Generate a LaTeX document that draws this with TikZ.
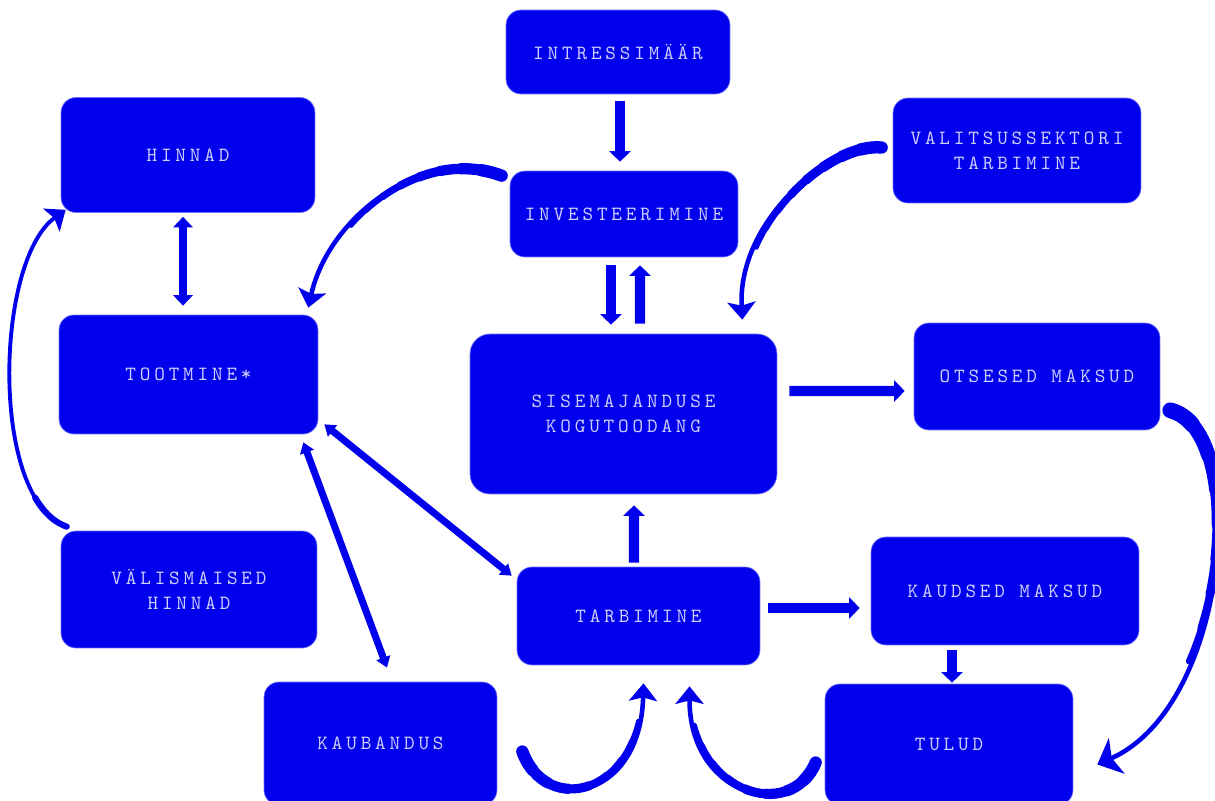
\documentclass[tikz,border=0pt]{standalone}
\usepackage{fontspec}
\setmonofont[LetterSpace=19]{lmmono10-regular.otf}
\usepackage{tikz}
\usetikzlibrary{arrows.meta}

\definecolor{boxblue}{RGB}{0,0,236}
\definecolor{boxline}{RGB}{110,110,255}
\definecolor{labeltext}{RGB}{205,205,255}

\tikzset{
  taper/.style={
    preaction={draw=boxblue,-,line cap=round,line width=7pt,dash pattern=on 12pt off 3000pt},
    preaction={draw=boxblue,-,line cap=round,line width=6.4pt,dash pattern=on 24pt off 3000pt},
    preaction={draw=boxblue,-,line cap=round,line width=5.8pt,dash pattern=on 36pt off 3000pt},
    preaction={draw=boxblue,-,line cap=round,line width=5.2pt,dash pattern=on 48pt off 3000pt},
    preaction={draw=boxblue,-,line cap=round,line width=4.6pt,dash pattern=on 60pt off 3000pt},
    preaction={draw=boxblue,-,line cap=round,line width=4pt,dash pattern=on 72pt off 3000pt},
    preaction={draw=boxblue,-,line cap=round,line width=3.4pt,dash pattern=on 84pt off 3000pt},
    preaction={draw=boxblue,-,line cap=round,line width=3pt,dash pattern=on 96pt off 3000pt}},
  longtaper/.style={
    preaction={draw=boxblue,-,line cap=round,line width=9pt,dash pattern=on 15pt off 3000pt},
    preaction={draw=boxblue,-,line cap=round,line width=8.2pt,dash pattern=on 35pt off 3000pt},
    preaction={draw=boxblue,-,line cap=round,line width=7.4pt,dash pattern=on 55pt off 3000pt},
    preaction={draw=boxblue,-,line cap=round,line width=6.6pt,dash pattern=on 75pt off 3000pt},
    preaction={draw=boxblue,-,line cap=round,line width=5.8pt,dash pattern=on 95pt off 3000pt},
    preaction={draw=boxblue,-,line cap=round,line width=5pt,dash pattern=on 115pt off 3000pt},
    preaction={draw=boxblue,-,line cap=round,line width=4.2pt,dash pattern=on 135pt off 3000pt},
    preaction={draw=boxblue,-,line cap=round,line width=3.4pt,dash pattern=on 155pt off 3000pt}}
}

\begin{document}
\begin{tikzpicture}[x=0.02cm,y=-0.02cm,
  box/.style={rectangle,rounded corners=0.3cm,draw=boxline,fill=boxblue,text=labeltext,
    font=\ttfamily\fontsize{11.5}{14.2}\selectfont,align=center,inner sep=0pt},
  blockarrow/.style={draw=boxblue,line width=5.7pt,-{Triangle[width=12pt,length=6pt]}},
  blockboth/.style={draw=boxblue,line width=5pt,{Triangle[width=11pt,length=6pt]}-{Triangle[width=11pt,length=6pt]}},
  thinboth/.style={draw=boxblue,line width=4pt,{Triangle[width=8pt,length=6pt]}-{Triangle[width=8pt,length=6pt]}},
  curvearrow/.style={draw=boxblue,line width=2.6pt,-{Stealth[width=16pt,length=10pt,inset=2pt]}}]
\useasboundingbox (0,0) rectangle (1215,801);

\begin{scope}[every node/.style={box}]
\node[minimum width=4.48cm,minimum height=1.68cm] (intress) at (618,52) {INTRESSIMÄÄR};
\node[minimum width=5.08cm,minimum height=2.3cm] (hinnad) at (188,155) {HINNAD};
\node[minimum width=4.56cm,minimum height=1.72cm] (invest) at (624,214) {INVESTEERIMINE};
\node[minimum width=4.96cm,minimum height=2.1cm] (valits) at (1017,150.5) {VALITSUSSEKTORI\\TARBIMINE};
\node[minimum width=5.18cm,minimum height=2.38cm] (tootm) at (188.5,374.5) {TOOTMINE*};
\node[minimum width=6.14cm,minimum height=3.2cm,rounded corners=0.4cm] (skp) at (623.5,414) {SISEMAJANDUSE\\KOGUTOODANG};
\node[minimum width=4.92cm,minimum height=2.14cm] (otsesed) at (1037,376.5) {OTSESED MAKSUD};
\node[minimum width=5.12cm,minimum height=2.34cm] (valism) at (189,589.5) {VÄLISMAISED\\HINNAD};
\node[minimum width=4.86cm,minimum height=1.96cm] (tarb) at (638.5,616) {TARBIMINE};
\node[minimum width=5.36cm,minimum height=2.16cm] (kaudsed) at (1005,591) {KAUDSED MAKSUD};
\node[minimum width=4.66cm,minimum height=2.46cm] (kaub) at (380.5,743.5) {KAUBANDUS};
\node[minimum width=4.96cm,minimum height=2.42cm] (tulud) at (949,744.5) {TULUD};
\end{scope}

% straight block arrows
\draw[blockarrow] ([shift={(2,7)}]intress.south) -- ([shift={(-4,-9)}]invest.north);
\draw[blockboth] ([shift={(-5,4)}]hinnad.south) -- ([shift={(-5.5,-9)}]tootm.north);
\draw[blockarrow] ([shift={(-13,8)}]invest.south) -- ([shift={(-12.5,-9)}]skp.north);
\draw[blockarrow] ([shift={(16.5,-10)}]skp.north) -- ([shift={(16,8)}]invest.south);
\draw[blockarrow] ([shift={(12,-23)}]skp.east) -- ([shift={(-9,14.5)}]otsesed.west);
\draw[blockarrow] ([shift={(-4.5,-4)}]tarb.north) -- ([shift={(10.5,11)}]skp.south);
\draw[blockarrow] ([shift={(8,-8)}]tarb.east) -- ([shift={(-11,17)}]kaudsed.west);
\draw[blockarrow] ([shift={(-53,5)}]kaudsed.south) -- ([shift={(3,-1)}]tulud.north);

\draw[thinboth] ([shift={(6,-10)}]tootm.south east) -- ([shift={(-5,9)}]tarb.north west);
\draw[thinboth] ([shift={(-15,8)}]tootm.south east) -- ([shift={(6.5,-14)}]kaub.north);

% curved arrows
\draw[curvearrow,taper] ([shift={(-8,5)}]invest.north west) .. controls +(-80,-30) and +(20,-90) .. ([shift={(-10,-7)}]tootm.north east);
\draw[curvearrow,taper] ([shift={(-11,-3)}]valits.west) .. controls +(-50,-5) and +(-5,-100) .. ([shift={(-35,-14)}]skp.north east);
\draw[curvearrow,longtaper,-{Stealth[width=22pt,length=12pt,inset=3pt]}] ([shift={(10,-20)}]otsesed.south east) .. controls +(80,20) and +(133,-59) .. ([shift={(24,20)}]tulud.east);
\draw[curvearrow,line width=2.2pt,preaction={draw=boxblue,-,line cap=round,line width=3.5pt,dash pattern=on 25pt off 3000pt}] ([shift={(6,-4)}]valism.north west) .. controls +(-77,-27) and +(-71,51) .. ([shift={(5,-3)}]hinnad.south west);
\draw[curvearrow,taper] ([shift={(25,8)}]kaub.east) .. controls +(23,64) and +(-3,117) .. ([shift={(5,18)}]tarb.south);
\draw[curvearrow,taper] ([shift={(-9,18)}]tulud.west) .. controls +(-25,60) and +(0,110) .. ([shift={(51,21)}]tarb.south);

\end{tikzpicture}
\end{document}
